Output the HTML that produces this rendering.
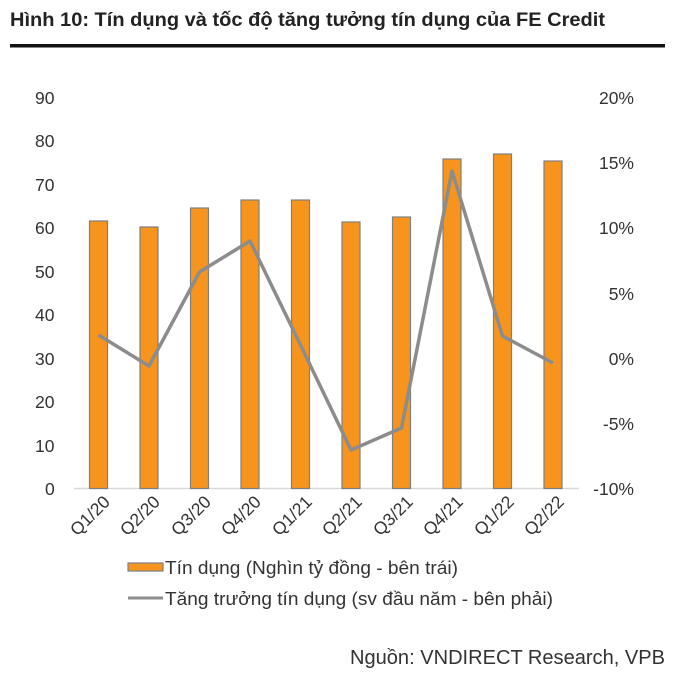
<!DOCTYPE html>
<html><head><meta charset="utf-8"><style>
body{margin:0;background:#fff;}
svg{display:block;font-family:"Liberation Sans",Arial,sans-serif;}
</style></head><body>
<svg width="690" height="679" viewBox="0 0 690 679" xmlns="http://www.w3.org/2000/svg">
<text x="10" y="26" font-size="19.5" font-weight="bold" fill="#222" textLength="595" lengthAdjust="spacingAndGlyphs">Hình 10: Tín dụng và tốc độ tăng tưởng tín dụng của FE Credit</text>
<rect x="10" y="44" width="655" height="3.5" fill="#111"/>
<g font-size="17.5" fill="#333">
<text x="35" y="104">90</text>
<text x="35" y="147">80</text>
<text x="35" y="191">70</text>
<text x="35" y="234">60</text>
<text x="35" y="278">50</text>
<text x="35" y="321">40</text>
<text x="35" y="365">30</text>
<text x="35" y="408">20</text>
<text x="35" y="452">10</text>
<text x="45" y="495">0</text>
<g text-anchor="end">
<text x="634" y="104">20%</text>
<text x="634" y="169">15%</text>
<text x="634" y="234">10%</text>
<text x="634" y="300">5%</text>
<text x="634" y="365">0%</text>
<text x="634" y="430">-5%</text>
<text x="634" y="495">-10%</text>
</g>
</g>
<line x1="74" y1="488.5" x2="579" y2="488.5" stroke="#d9d9d9" stroke-width="1.5"/>
<g fill="#f7941d" stroke="#7f7f7f" stroke-width="1.2">
<rect x="89.5" y="221" width="18" height="267.5"/>
<rect x="140" y="227" width="18" height="261.5"/>
<rect x="190.5" y="208" width="18" height="280.5"/>
<rect x="241" y="200" width="18" height="288.5"/>
<rect x="291.5" y="200" width="18" height="288.5"/>
<rect x="342" y="222" width="18" height="266.5"/>
<rect x="392.5" y="217" width="18" height="271.5"/>
<rect x="443" y="159" width="18" height="329.5"/>
<rect x="493.5" y="154" width="18" height="334.5"/>
<rect x="544" y="161" width="18" height="327.5"/>
</g>
<polyline fill="none" stroke="#8c8c8c" stroke-width="3.5" stroke-linejoin="round" points="98.5,335 149,366 199.5,272 250,241 300.5,345 351,450 401.5,428 452,171 502.5,336 553,363"/>
<g font-size="17.5" fill="#333">
<text transform="translate(111,503) rotate(-45)" text-anchor="end">Q1/20</text>
<text transform="translate(161,503) rotate(-45)" text-anchor="end">Q2/20</text>
<text transform="translate(212,503) rotate(-45)" text-anchor="end">Q3/20</text>
<text transform="translate(262,503) rotate(-45)" text-anchor="end">Q4/20</text>
<text transform="translate(313,503) rotate(-45)" text-anchor="end">Q1/21</text>
<text transform="translate(363,503) rotate(-45)" text-anchor="end">Q2/21</text>
<text transform="translate(414,503) rotate(-45)" text-anchor="end">Q3/21</text>
<text transform="translate(464,503) rotate(-45)" text-anchor="end">Q4/21</text>
<text transform="translate(515,503) rotate(-45)" text-anchor="end">Q1/22</text>
<text transform="translate(565,503) rotate(-45)" text-anchor="end">Q2/22</text>
</g>
<rect x="128" y="563" width="35" height="8" fill="#f7941d" stroke="#7f7f7f" stroke-width="1.2"/>
<text x="165" y="574" font-size="18.5" fill="#333" textLength="293" lengthAdjust="spacingAndGlyphs">Tín dụng (Nghìn tỷ đồng - bên trái)</text>
<line x1="128" y1="598" x2="163" y2="598" stroke="#8c8c8c" stroke-width="3"/>
<text x="165" y="605" font-size="18.5" fill="#333" textLength="388" lengthAdjust="spacingAndGlyphs">Tăng trưởng tín dụng (sv đầu năm - bên phải)</text>
<text x="665" y="664" font-size="20" fill="#333" text-anchor="end" textLength="315" lengthAdjust="spacingAndGlyphs">Nguồn: VNDIRECT Research, VPB</text>
</svg>
</body></html>
